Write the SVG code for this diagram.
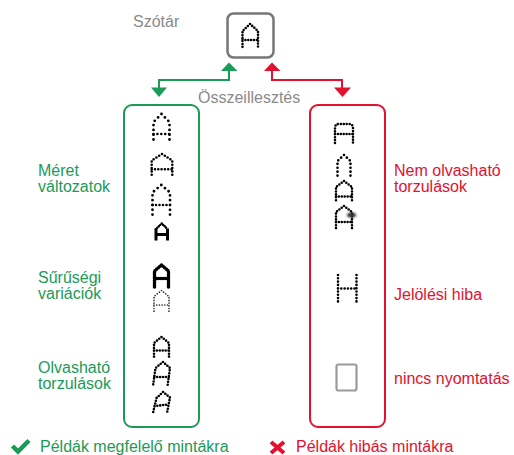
<svg xmlns="http://www.w3.org/2000/svg" width="514" height="455" viewBox="0 0 514 455">
  <defs>
    <radialGradient id="topShade" cx="0.5" cy="0" r="0.5" gradientUnits="objectBoundingBox">
      <stop offset="0" stop-color="#dcdcdc"/>
      <stop offset="0.6" stop-color="#efefef"/>
      <stop offset="1" stop-color="#ffffff" stop-opacity="0"/>
    </radialGradient>
    <filter id="blur" x="-50%" y="-50%" width="200%" height="200%">
      <feGaussianBlur stdDeviation="0.8"/>
    </filter>
  </defs>
  <style>
    text { font-family: "Liberation Sans", Arial, Helvetica, sans-serif; font-size: 16px; }
    .gray { fill: #8a8a8a; }
    .green { fill: #1b9a58; }
    .red { fill: #e3112f; }
    .box { fill: #ffffff; stroke-width: 2; }
    .gbox { stroke: #1b9a58; }
    .rbox { stroke: #e3112f; }
    .gline { fill: none; stroke: #1b9a58; stroke-width: 2; }
    .rline { fill: none; stroke: #e3112f; stroke-width: 2; }
    .dot { fill: none; stroke: #000000; stroke-linecap: round; stroke-linejoin: round; }
    .s26 { stroke-width: 2.6; stroke-dasharray: 0 2.9; }
    .s33 { stroke-width: 2.6; stroke-dasharray: 0 3.3; }
    .s46 { stroke-width: 2.8; stroke-dasharray: 0 4.8; }
    .s40 { stroke-width: 2.7; stroke-dasharray: 0 3.9; }
    .bold { stroke-width: 3.6; stroke-dasharray: 0 2.1; }
    .faint { stroke-width: 1.7; stroke-dasharray: 0 2.7; stroke: #333333; }
    .solid { fill: none; stroke: #000000; stroke-width: 3; stroke-linecap: butt; }
  </style>

  <rect x="0" y="0" width="514" height="455" fill="#ffffff"/>
  <ellipse cx="257" cy="0" rx="290" ry="28" fill="url(#topShade)"/>

  <!-- Dictionary node -->
  <g id="node-dictionary">
    <text class="gray" x="133" y="27">Szótár</text>
    <rect x="227.5" y="13.5" width="46" height="44" rx="6" fill="#ffffff" stroke="#777777" stroke-width="2.5"/>
    <path class="dot s26" d="M250,24 L242.5,31 V48 M250,24 L258,31 V48 M242.5,40 H258"/>
  </g>

  <!-- Connectors -->
  <g id="connectors">
    <path class="gline" d="M229,70 V80 H159 V88"/>
    <polygon fill="#1b9a58" points="221,71 237.5,71 229,62.5"/>
    <polygon fill="#1b9a58" points="151,87.5 167,87.5 159,97"/>
    <path class="rline" d="M272,70 V80 H342 V88"/>
    <polygon fill="#e3112f" points="264,71 280.5,71 272,62.5"/>
    <polygon fill="#e3112f" points="334,87.5 351,87.5 342.5,97"/>
    <text class="gray" x="198" y="103">Összeillesztés</text>
  </g>

  <!-- Good samples box -->
  <g id="node-good">
    <rect class="box gbox" x="124" y="105" width="75" height="322" rx="8"/>
    <!-- size variants -->
    <path class="dot s46" d="M161.5,114 L153.5,122 V143.5 M161.5,114 L169.5,122 V143.5"/>
    <path class="dot" style="stroke-width:2.6;stroke-dasharray:0 3.9" d="M153.5,134 H169.5"/>
    <path class="dot s33" d="M162,154 L151.7,160.5 V177 M162,154 L172.3,160.5 V177 M151.7,169.3 H172.3"/>
    <path class="dot s46" d="M161.3,185 L152.5,192.5 V215 M161.3,185 L170,192.5 V215"/>
    <path class="dot" style="stroke-width:2.6;stroke-dasharray:0 3.5" d="M152.5,205 H170"/>
    <path class="dot" style="stroke-width:2.4;stroke-dasharray:0 2" d="M156,229 L161.7,223.5 L167.5,229"/>
    <path class="solid" d="M156,228.5 V240.5 M167.5,228.5 V240.5 M156,234.5 H167.5"/>
    <!-- density variants -->
    <path class="dot bold" d="M161.5,265 L154.5,271 V287 M161.5,265 L168.5,271 V287 M154.5,278.5 H168.5"/>
    <path class="dot faint" d="M161.5,290.5 L154,296.5 V313 M161.5,290.5 L169,296.5 V313 M154,305 H169"/>
    <!-- readable distortions -->
    <path class="dot s26" d="M161.5,337 L154,343 V359 M161.5,337 L169,343 V359 M154,350.5 H169"/>
    <path class="dot s26" d="M163,362 L155.5,368 L153,386 M163,362 L170,368 L167.5,386 M154.3,377 H169"/>
    <path class="dot s26" d="M163,392 L156.5,398 L153,413 M163,392 L170,397.5 L167,413 M154.5,406 L168.5,404.5"/>
  </g>

  <!-- Bad samples box -->
  <g id="node-bad">
    <rect class="box rbox" x="310" y="105" width="75" height="322" rx="8"/>
    <path class="dot s26" d="M335,143 V128 Q335,124 339,124 H349 Q353,124 353,128 V143 M335,134 H353"/>
    <path class="dot s40" d="M344,155 L337.5,161 V176 M344,155 L350.5,161 V176"/>
    <path class="dot s26" d="M344,181 L336,187 V202 M344,181 L352,187 V202 M336,196.5 H352"/>
    <path class="dot s26" d="M344,206 L336,212 V230 M344,206 L352,212 V230 M336,222 H352"/>
    <ellipse cx="351.5" cy="215" rx="4.5" ry="2.6" fill="#333333" filter="url(#blur)"/>
    <path class="dot s33" d="M338,275 V303 M356.5,275 V303 M338,288.5 H356.5"/>
    <rect x="336.5" y="364.5" width="20" height="26" rx="2" fill="none" stroke="#9a9a9a" stroke-width="2.2"/>
  </g>

  <!-- Left labels -->
  <g id="labels-good">
    <text class="green" x="38" y="176">Méret</text>
    <text class="green" x="38" y="192">változatok</text>
    <text class="green" x="38" y="283">Sűrűségi</text>
    <text class="green" x="38" y="299">variációk</text>
    <text class="green" x="38" y="373">Olvasható</text>
    <text class="green" x="38" y="389">torzulások</text>
  </g>

  <!-- Right labels -->
  <g id="labels-bad">
    <text class="red" x="394" y="176">Nem olvasható</text>
    <text class="red" x="394" y="192">torzulások</text>
    <text class="red" x="394" y="300">Jelölési hiba</text>
    <text class="red" x="394" y="384">nincs nyomtatás</text>
  </g>

  <!-- Legend -->
  <g id="legend">
    <path d="M12.5,446 L18,451.5 L29,440.5" fill="none" stroke="#1b9a58" stroke-width="4.5"/>
    <text class="green" x="40" y="452">Példák megfelelő mintákra</text>
    <path d="M271,442 L284,453 M284,442 L271,453" fill="none" stroke="#e3112f" stroke-width="4"/>
    <text class="red" x="296" y="452">Példák hibás mintákra</text>
  </g>
</svg>
